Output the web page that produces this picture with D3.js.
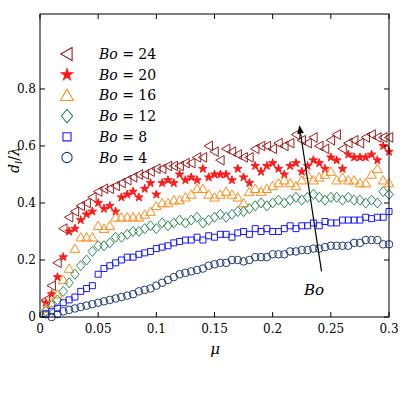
<!DOCTYPE html>
<html><head><meta charset="utf-8">
<script src="https://cdn.jsdelivr.net/npm/d3@7"></script>
<style>body{margin:0;background:#fff}svg text{font-family:"DejaVu Serif","Liberation Serif",serif}</style>
</head><body><svg id="fig" width="400" height="400"></svg>
<script>
const mu = d3.range(1, 61).map(i => i * 0.005);
const bo4 = [0.01,0.00,0.01,0.02,0.025,0.03,0.035,0.04,0.045,0.05,0.055,0.06,0.065,0.07,0.075,0.08,0.09,0.095,0.10,0.11,0.12,0.13,0.14,0.15,0.155,0.16,0.165,0.17,0.18,0.185,0.19,0.19,0.20,0.20,0.195,0.20,0.21,0.21,0.21,0.22,0.22,0.22,0.23,0.23,0.235,0.235,0.24,0.24,0.245,0.25,0.25,0.25,0.25,0.26,0.26,0.27,0.27,0.27,0.255,0.255];
const bo8 = [0.01,0.02,0.03,0.05,0.06,0.07,0.09,0.10,0.11,0.15,0.17,0.18,0.19,0.20,0.21,0.21,0.22,0.225,0.23,0.24,0.245,0.25,0.26,0.265,0.27,0.27,0.28,0.27,0.285,0.28,0.29,0.29,0.28,0.295,0.30,0.29,0.31,0.30,0.31,0.30,0.30,0.31,0.32,0.31,0.32,0.32,0.33,0.32,0.335,0.33,0.33,0.34,0.34,0.34,0.34,0.35,0.345,0.35,0.35,0.37];
const bo12 = [0.02,0.04,0.06,0.09,0.12,0.15,0.18,0.20,0.23,0.25,0.25,0.26,0.28,0.28,0.29,0.30,0.30,0.31,0.32,0.31,0.33,0.32,0.33,0.34,0.33,0.34,0.35,0.33,0.34,0.35,0.36,0.35,0.36,0.37,0.37,0.38,0.39,0.40,0.39,0.40,0.41,0.40,0.41,0.42,0.41,0.42,0.43,0.42,0.41,0.42,0.42,0.41,0.42,0.41,0.41,0.40,0.41,0.40,0.44,0.43];
const bo16 = [0.03,0.05,0.08,0.13,0.17,0.24,0.28,0.28,0.28,0.32,0.31,0.32,0.35,0.35,0.35,0.35,0.35,0.36,0.37,0.39,0.40,0.40,0.41,0.41,0.42,0.43,0.45,0.45,0.43,0.42,0.43,0.44,0.43,0.42,0.40,0.44,0.45,0.44,0.45,0.46,0.47,0.48,0.47,0.46,0.48,0.50,0.48,0.49,0.50,0.51,0.48,0.49,0.48,0.48,0.47,0.47,0.50,0.52,0.48,0.47];
const bo20 = [0.05,0.08,0.14,0.21,0.30,0.31,0.34,0.36,0.37,0.40,0.38,0.39,0.37,0.42,0.43,0.44,0.42,0.45,0.47,0.43,0.47,0.48,0.47,0.50,0.48,0.49,0.48,0.52,0.49,0.50,0.50,0.50,0.48,0.52,0.49,0.47,0.53,0.51,0.53,0.54,0.52,0.50,0.53,0.54,0.51,0.53,0.55,0.54,0.52,0.56,0.55,0.52,0.57,0.56,0.56,0.56,0.57,0.55,0.60,0.58];
const bo24 = [0.06,0.11,0.19,0.31,0.35,0.37,0.39,0.40,0.42,0.44,0.45,0.45,0.46,0.47,0.48,0.49,0.50,0.50,0.51,0.52,0.52,0.53,0.53,0.53,0.54,0.54,0.56,0.56,0.60,0.58,0.55,0.59,0.58,0.57,0.56,0.56,0.59,0.60,0.60,0.59,0.61,0.60,0.61,0.64,0.62,0.61,0.63,0.60,0.59,0.62,0.64,0.59,0.61,0.62,0.61,0.63,0.64,0.63,0.63,0.63];
const xTicks = [0, 0.05, 0.1, 0.15, 0.2, 0.25, 0.3];
const yTicks = [0, 0.2, 0.4, 0.6, 0.8];

const series = [
  { label: "24", values: bo24, color: "#9b1c1c", shape: "left" },
  { label: "20", values: bo20, color: "#ff1a1a", shape: "star" },
  { label: "16", values: bo16, color: "#ff8c1a", shape: "up" },
  { label: "12", values: bo12, color: "#2e8b57", shape: "diamond" },
  { label: "8", values: bo8, color: "#1a1aff", shape: "square" },
  { label: "4", values: bo4, color: "#1f3c7a", shape: "circle" }
];

const svg = d3.select("#fig");
const L = 40, R = 389, T = 14, B = 317;
const x = d3.scaleLinear().domain([0, 0.3]).range([L, R]);
const y = d3.scaleLinear().domain([0, 1.063]).range([B, T]);

function path(shape) {
  const r = 4.2;
  if (shape === "circle") return d3.symbol(d3.symbolCircle, 45)();
  if (shape === "square") return d3.symbol(d3.symbolSquare, 36)();
  if (shape === "star") return d3.symbol(d3.symbolStar, 22)();
  if (shape === "diamond") return `M0,${-r*1.2}L${r},0L0,${r*1.2}L${-r},0Z`;
  if (shape === "up") return `M0,${-r*1.1}L${r*1.15},${r*0.9}L${-r*1.15},${r*0.9}Z`;
  if (shape === "left") return `M${-r*1.1},0L${r*0.9},${-r*1.15}L${r*0.9},${r*1.15}Z`;
}

// points
series.forEach(s => {
  const p = path(s.shape);
  svg.append("g").selectAll("path").data(s.values).join("path")
    .attr("d", p)
    .attr("transform", (d, i) => `translate(${x(mu[i])},${y(d)})`)
    .attr("fill", s.shape === "star" ? s.color : "none")
    .attr("stroke", s.color).attr("stroke-width", 1);
});

// frame and ticks
svg.append("rect").attr("x", L).attr("y", T).attr("width", R - L).attr("height", B - T)
  .attr("fill", "none").attr("stroke", "#000").attr("stroke-width", 1);
const tk = svg.append("g").attr("stroke", "#000");
xTicks.forEach(t => {
  tk.append("line").attr("x1", x(t)).attr("x2", x(t)).attr("y1", B).attr("y2", B - 5);
  tk.append("line").attr("x1", x(t)).attr("x2", x(t)).attr("y1", T).attr("y2", T + 5);
  svg.append("text").attr("x", x(t)).attr("y", B + 16).attr("text-anchor", "middle")
    .attr("font-size", 12).text(t);
});
yTicks.forEach(t => {
  tk.append("line").attr("x1", L).attr("x2", L + 5).attr("y1", y(t)).attr("y2", y(t));
  tk.append("line").attr("x1", R).attr("x2", R - 5).attr("y1", y(t)).attr("y2", y(t));
  svg.append("text").attr("x", L - 4).attr("y", y(t) + 4).attr("text-anchor", "end")
    .attr("font-size", 12).text(t);
});

// axis labels
svg.append("text").attr("x", 215).attr("y", 354).attr("text-anchor", "middle")
  .attr("font-size", 15).attr("font-style", "italic").text("μ");
const yl = svg.append("text").attr("transform", "translate(19,160) rotate(-90)")
  .attr("text-anchor", "middle").attr("font-size", 14);
yl.append("tspan").attr("font-style", "italic").text("d");
yl.append("tspan").attr("font-style", "italic").attr("font-size", 10).attr("dy", 3).text("l");
yl.append("tspan").attr("dy", -3).text("/");
yl.append("tspan").attr("font-style", "italic").text("λ");

// legend
series.forEach((s, i) => {
  const ly = 54 + i * 20.7;
  svg.append("path").attr("d", path(s.shape)).attr("transform", `translate(67,${ly}) scale(1.35)`)
    .attr("fill", s.shape === "star" ? s.color : "none").attr("stroke", s.color).attr("stroke-width", 0.8);
  const t = svg.append("text").attr("x", 99).attr("y", ly + 5).attr("font-size", 14);
  t.append("tspan").attr("font-style", "italic").text("Bo");
  t.append("tspan").text(" = " + s.label);
});

// arrow
svg.append("defs").append("marker").attr("id", "ah").attr("viewBox", "0 0 10 10")
  .attr("refX", 9).attr("refY", 5).attr("markerWidth", 7).attr("markerHeight", 7).attr("orient", "auto")
  .append("path").attr("d", "M0,1L10,5L0,9Z").attr("fill", "#000");
svg.append("line").attr("x1", x(0.242)).attr("y1", y(0.16)).attr("x2", x(0.223)).attr("y2", y(0.67))
  .attr("stroke", "#000").attr("stroke-width", 1.2).attr("marker-end", "url(#ah)");
svg.append("text").attr("x", 314).attr("y", 295).attr("text-anchor", "middle")
  .attr("font-size", 15).attr("font-style", "italic").text("Bo");
</script></body></html>
